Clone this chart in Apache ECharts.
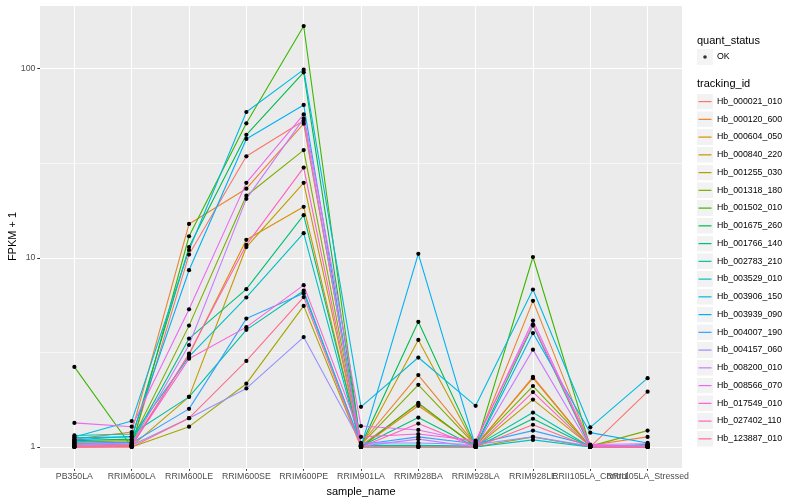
<!DOCTYPE html>
<html>
<head>
<meta charset="utf-8">
<script src="https://cdn.jsdelivr.net/npm/echarts@6/dist/echarts.min.js"></script>
<style>
html,body{margin:0;padding:0;background:#fff;}
#chart{width:800px;height:500px;}
</style>
</head>
<body>
<div id="chart"></div>
<script>
// Categories (x axis)
const categories = ["PB350LA","RRIM600LA","RRIM600LE","RRIM600SE","RRIM600PE","RRIM901LA","RRIM928BA","RRIM928LA","RRIM928LE","RRII105LA_Control","RRII105LA_Stressed"];
// Y tick labels
const yTicks = [1, 10, 100];
// Series ids
const trackingIds = ["Hb_000021_010","Hb_000120_600","Hb_000604_050","Hb_000840_220","Hb_001255_030","Hb_001318_180","Hb_001502_010","Hb_001675_260","Hb_001766_140","Hb_002783_210","Hb_003529_010","Hb_003906_150","Hb_003939_090","Hb_004007_190","Hb_004157_060","Hb_008200_010","Hb_008566_070","Hb_017549_010","Hb_027402_110","Hb_123887_010"];
const quantStatus = ["OK"];
// FPKM + 1 values per series, in category order
const Hb_000021_010 = [1.05, 1.02, 10.4, 34.4, 53.1, 1.02, 1.69, 1.01, 2.35, 1.00, 1.96];
const Hb_000120_600 = [1.10, 1.20, 15.1, 23.2, 51.2, 1.04, 2.40, 1.03, 5.92, 1.02, 1.13];
const Hb_000604_050 = [1.02, 1.03, 3.07, 12.45, 18.6, 1.00, 1.65, 1.02, 2.31, 1.00, 1.02];
const Hb_000840_220 = [1.00, 1.01, 1.84, 11.4, 24.9, 1.01, 3.68, 1.00, 1.78, 1.01, 1.00];
const Hb_001255_030 = [1.00, 1.00, 1.28, 2.16, 5.57, 1.00, 1.00, 1.00, 1.13, 1.00, 1.01];
const Hb_001318_180 = [1.06, 1.08, 4.38, 21.3, 37.1, 1.03, 2.13, 1.02, 2.10, 1.01, 1.22];
const Hb_001502_010 = [2.65, 1.00, 13.0, 51.4, 168, 1.00, 1.71, 1.00, 10.1, 1.00, 1.00];
const Hb_001675_260 = [1.08, 1.10, 11.4, 44.7, 95.6, 1.02, 4.59, 1.01, 4.38, 1.00, 1.03];
const Hb_001766_140 = [1.04, 1.06, 3.74, 6.83, 16.8, 1.01, 1.43, 1.00, 1.41, 1.00, 1.00];
const Hb_002783_210 = [1.15, 1.17, 1.84, 4.16, 6.7, 1.02, 1.02, 1.01, 1.52, 1.00, 1.02];
const Hb_003529_010 = [1.12, 1.13, 3.00, 6.17, 13.5, 1.00, 1.00, 1.00, 1.09, 1.00, 1.00];
const Hb_003906_150 = [1.13, 1.37, 11.0, 59.0, 98.8, 1.63, 2.97, 1.65, 6.8, 1.27, 2.31];
const Hb_003939_090 = [1.09, 1.14, 8.6, 42.5, 64.3, 1.00, 10.5, 1.00, 4.0, 1.19, 1.05];
const Hb_004007_190 = [1.07, 1.05, 1.59, 4.77, 6.5, 1.03, 1.13, 1.04, 1.22, 1.02, 1.01];
const Hb_004157_060 = [1.03, 1.02, 1.42, 2.04, 3.81, 1.05, 1.05, 1.03, 1.13, 1.01, 1.02];
const Hb_008200_010 = [1.05, 1.04, 3.46, 20.5, 54.4, 1.01, 1.10, 1.00, 3.27, 1.00, 1.00];
const Hb_008566_070 = [1.34, 1.28, 5.34, 24.9, 57.3, 1.29, 1.23, 1.06, 4.66, 1.03, 1.04];
const Hb_017549_010 = [1.01, 1.02, 2.93, 4.3, 7.17, 1.13, 1.17, 1.08, 4.45, 1.02, 1.00];
const Hb_027402_110 = [1.00, 1.01, 3.12, 11.7, 30.0, 1.00, 1.33, 1.00, 1.95, 1.00, 1.00];
const Hb_123887_010 = [1.00, 1.00, 1.42, 2.85, 6.2, 1.00, 1.00, 1.00, 1.31, 1.00, 1.00];

const seriesValues = [Hb_000021_010,Hb_000120_600,Hb_000604_050,Hb_000840_220,Hb_001255_030,Hb_001318_180,Hb_001502_010,Hb_001675_260,Hb_001766_140,Hb_002783_210,Hb_003529_010,Hb_003906_150,Hb_003939_090,Hb_004007_190,Hb_004157_060,Hb_008200_010,Hb_008566_070,Hb_017549_010,Hb_027402_110,Hb_123887_010];
const colors = ["#F8766D","#EA8331","#D89000","#C09B00","#A3A500","#7CAE00","#39B600","#00BB4E","#00BF7D","#00C1A3","#00BFC4","#00BAE0","#00B0F6","#35A2FF","#9590FF","#C77CFF","#E76BF3","#FA62DB","#FF62BC","#FF6C91"];

const FONT = '"Liberation Sans", Arial, sans-serif';
// ggplot-style expansion of the log range (5%)
const allVals = [].concat(...seriesValues);
const lmin = Math.log10(Math.min(...allVals)), lmax = Math.log10(Math.max(...allVals));
const pad = (lmax - lmin) * 0.05;
const yMin = Math.pow(10, lmin - pad), yMax = Math.pow(10, lmax + pad);
const catPositions = categories.map((c, j) => j + 1);
// split tick positions over two overlaid axes so overlapping labels both stay visible
const evenPos = catPositions.filter(p => p % 2 === 0);
const oddPos = catPositions.filter(p => p % 2 === 1);

function lineIcon(c){
  const svg = '<svg xmlns="http://www.w3.org/2000/svg" width="16" height="16"><rect width="16" height="16" fill="#F2F2F2"/><rect x="1.5" y="7.5" width="13" height="1.2" fill="'+c+'"/></svg>';
  return 'image://data:image/svg+xml;charset=utf-8,' + encodeURIComponent(svg);
}
function dotIcon(){
  const svg = '<svg xmlns="http://www.w3.org/2000/svg" width="16" height="16"><rect width="16" height="16" fill="#F2F2F2"/><circle cx="8" cy="8" r="1.8" fill="#000"/></svg>';
  return 'image://data:image/svg+xml;charset=utf-8,' + encodeURIComponent(svg);
}

const series = trackingIds.map((id, i) => ({
  type: 'line',
  name: id,
  xAxisIndex: 0, yAxisIndex: 0,
  data: seriesValues[i].map((v, j) => [catPositions[j], v]),
  symbol: 'circle',
  symbolSize: 4.2,
  lineStyle: { color: colors[i], width: 1.1 },
  itemStyle: { color: '#000' },
  emphasis: { disabled: true },
  silent: true,
  animation: false
}));
series.push({ type: 'scatter', name: quantStatus[0], data: [], xAxisIndex: 0, yAxisIndex: 0, itemStyle: { color: '#000' } });

function xAxisDef(pos, withName, withSplit) {
  return {
    type: 'value', min: 0.4, max: 11.6, position: 'bottom', offset: 0,
    name: withName ? 'sample_name' : '', nameLocation: 'middle', nameGap: 14,
    nameTextStyle: { fontSize: 11, color: '#000', fontFamily: FONT },
    axisLine: { show: false },
    axisTick: { show: true, length: 2.75, customValues: pos, lineStyle: { color: '#333', width: 1 } },
    axisLabel: { fontSize: 8.8, color: '#4D4D4D', margin: 4.5, fontFamily: FONT, customValues: pos,
      hideOverlap: false, showMinLabel: true, showMaxLabel: true,
      formatter: v => categories[Math.round(v) - 1] || '' },
    splitLine: { show: withSplit, lineStyle: { color: '#FFFFFF', width: 1.1 } }
  };
}

const chart = echarts.init(document.getElementById('chart'), null, { renderer: 'canvas' });
chart.setOption({
  animation: false,
  backgroundColor: '#fff',
  textStyle: { fontFamily: FONT },
  grid: { left: 40, right: 118, top: 5, bottom: 32, show: true, backgroundColor: '#EBEBEB', borderWidth: 0,
          containLabel: false, outerBoundsMode: 'none' },
  xAxis: [xAxisDef(oddPos, true, true), xAxisDef(evenPos, false, true)],
  yAxis: [{
    type: 'log', logBase: 10, min: yMin, max: yMax,
    name: 'FPKM + 1', nameLocation: 'middle', nameGap: 22, nameMoveOverlap: false,
    nameTextStyle: { fontSize: 11, color: '#000', fontFamily: FONT },
    axisLine: { show: false },
    axisTick: { show: true, length: 2.75, lineStyle: { color: '#333', width: 1 } },
    axisLabel: { fontSize: 8.8, color: '#4D4D4D', margin: 4.5, fontFamily: FONT,
      formatter: v => { const r = yTicks.find(t => Math.abs(t - v) / t < 1e-6); return r ? String(r) : ''; },
      showMinLabel: false, showMaxLabel: false },
    splitLine: { show: true, lineStyle: { color: '#FFFFFF', width: 1.1 } },
    z: 3
  }, {
    type: 'log', logBase: Math.sqrt(10), min: yMin, max: yMax, position: 'left',
    axisLine: { show: false }, axisTick: { show: false }, axisLabel: { show: false },
    splitLine: { show: true, lineStyle: { color: '#FFFFFF', width: 0.55 } },
    z: 1
  }],
  legend: [{
    orient: 'vertical', left: 697, top: 49, padding: 0, itemGap: 0,
    itemWidth: 16, itemHeight: 16,
    selectedMode: false,
    data: [{ name: quantStatus[0], icon: dotIcon() }],
    textStyle: { fontSize: 8.8, color: '#000', fontFamily: FONT, padding: [0, 0, 0, -1] }
  }, {
    orient: 'vertical', left: 697, top: 93.5, padding: 0, itemGap: 1.75,
    itemWidth: 16, itemHeight: 16,
    selectedMode: false,
    data: trackingIds.map((id, i) => ({ name: id, icon: lineIcon(colors[i]) })),
    textStyle: { fontSize: 8.8, color: '#000', fontFamily: FONT, padding: [0, 0, 0, -1] }
  }],
  graphic: [
    { type: 'text', left: 697, top: 35, style: { text: 'quant_status', font: '11px ' + FONT, fill: '#000' } },
    { type: 'text', left: 697, top: 78, style: { text: 'tracking_id', font: '11px ' + FONT, fill: '#000' } }
  ],
  series: series
});
</script>
</body>
</html>
